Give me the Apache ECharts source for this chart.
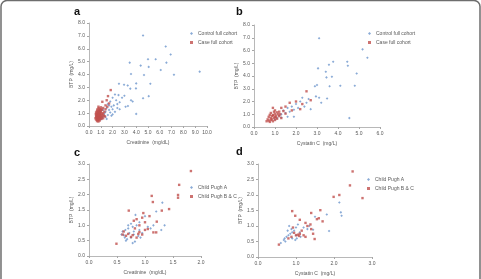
<!DOCTYPE html>
<html><head><meta charset="utf-8">
<script src="https://cdn.jsdelivr.net/npm/echarts@6/dist/echarts.min.js"></script>
<style>html,body{margin:0;padding:0;background:#fff}#c{width:481px;height:279px}</style>
</head><body><div id="c"></div>
<script>
// Panel a: Creatinine vs BTP, full cohort
var aControl = [[4.58,7.03],[6.5,6.17],[6.92,5.55],[5.65,5.19],[5.0,5.19],[6.56,4.92],[3.45,4.92],[4.38,4.69],[5.06,4.59],[6.08,4.35],[9.38,4.22],[3.56,4.04],[4.66,3.96],[7.2,3.98],[2.54,3.28],[5.2,3.28],[2.97,3.2],[3.28,3.15],[4.0,3.31],[3.5,2.9],[3.98,2.92],[5.06,2.32],[4.58,2.16],[4.0,0.94],[3.56,2.0],[3.7,1.9],
  [2.2,2.45],[2.5,2.4],[3.0,2.35],[2.8,2.2],[2.0,2.2],[2.3,2.0],[1.8,1.9],[2.6,1.85],[3.3,1.55],[3.1,1.5],[2.1,1.6],[1.6,1.7],[1.9,1.5],[2.4,1.4],[2.0,1.3],[1.7,1.25],[1.5,1.4],[2.6,1.3],[1.4,1.1],[1.8,1.05],[2.2,1.1],[1.3,0.95],[1.6,0.85],[1.9,0.8],[1.2,0.75],[1.4,0.7],[1.1,0.6],[1.5,0.55],[1.0,0.5],[2.0,0.9],[1.7,1.6],[2.4,1.7],[1.2,1.25]];
var aCase = [[1.84,2.79],[1.61,2.32],[1.13,1.88],[1.5,2.0],[1.7,1.75],[1.4,1.6],[0.8,1.5],[1.0,1.45],[1.2,1.4],[0.9,1.3],[1.1,1.25],[0.7,1.2],[0.85,1.15],[1.0,1.1],[1.3,1.1],[0.6,1.05],[0.75,1.0],[0.9,0.98],[1.05,0.95],[1.2,0.9],[0.65,0.9],[0.8,0.88],[0.95,0.85],[0.7,0.8],[0.85,0.78],[1.0,0.75],[0.6,0.72],[0.75,0.7],[0.9,0.68],[1.1,0.7],[0.65,0.62],[0.8,0.6],[0.95,0.58],[0.7,0.55],[0.85,0.5],[0.6,0.5],[0.75,0.45],[0.9,0.42],[0.68,0.38],[0.8,0.35],[1.15,1.0],[1.25,0.8],[0.72,1.3],[0.88,1.22],[1.02,1.3],[0.78,1.08],[0.93,1.05],[0.62,0.82],[0.7,0.95],[0.82,0.72],[0.97,0.64],[1.4,1.3],[1.55,1.5],[0.55,0.6],[0.9,0.9],[0.78,0.82],[1.05,0.55],[1.2,0.6],[1.35,0.75],
  [0.66,1.12],[0.74,0.66],[0.86,0.95],[0.58,0.92],[0.96,1.18],[0.7,0.48],[1.08,0.82],[0.82,1.38],[0.64,0.74],[0.9,0.55]];
// Panel b: Cystatin C vs BTP, full cohort
var bControl = [[3.1,6.96],[5.17,6.09],[5.4,5.43],[4.44,5.12],[3.77,5.12],[3.57,4.88],[4.47,4.8],[4.89,4.2],[3.05,4.6],[3.42,4.33],[3.71,3.94],[3.45,3.89],[4.11,3.23],[4.8,3.23],[3.6,3.2],[3.48,2.24],[4.54,0.7],
  [2.9,3.2],[3.0,3.3],[2.95,2.4],[3.1,2.3],[2.6,2.2],[2.3,2.3],[2.2,2.0],[2.5,1.9],[2.0,1.8],[1.8,1.6],[2.1,1.5],[1.6,1.5],[1.4,1.3],[1.7,1.2],[1.9,1.35],[1.5,1.1],[1.3,1.0],[1.2,0.9],[1.6,0.8],[1.9,0.8],[1.1,0.7],[2.7,1.4],[2.4,1.6],[3.2,1.9],[1.0,0.6],[1.3,0.75]];
var bCase = [[2.5,2.8],[2.0,2.0],[1.7,1.9],[2.2,1.4],[2.7,2.1],[1.5,1.6],[1.3,1.5],[0.9,1.5],[1.0,1.3],[1.2,1.2],[1.4,1.25],[0.8,1.1],[1.0,1.05],[1.15,1.0],[0.9,0.95],[1.05,0.9],[0.85,0.85],[0.7,0.8],[1.0,0.8],[1.2,0.85],[0.8,0.7],[0.95,0.7],[0.65,0.6],[0.85,0.6],[1.0,0.55],[0.7,0.5],[0.6,0.45],[0.75,0.4],[0.9,0.45],[1.1,0.65],[1.3,0.7],[0.75,0.95],[1.1,1.15],[0.95,1.2],[1.25,1.0],[1.5,1.05],[0.8,0.55],[1.05,0.75],[0.92,0.9],[2.3,1.8],[1.8,1.3]];
// Panel c: Creatinine vs BTP, cases by Child Pugh
var cA = [[1.31,1.74],[1.2,1.45],[1.35,1.0],[1.29,0.85],[0.83,1.34],[1.0,1.3],[0.9,1.1],[0.85,1.0],[0.78,0.95],[0.7,0.9],[0.65,0.85],[0.6,0.8],[0.72,0.75],[0.8,0.7],[0.88,0.65],[0.75,0.6],[0.68,0.55],[0.82,0.47],[0.78,0.42],[0.64,0.6],[0.7,1.0],[0.9,0.85],[0.95,0.75],[1.05,0.95],[0.58,0.7],[0.62,0.68],[0.92,0.6],[1.1,0.9],[0.75,1.05],[0.8,0.8],[1.15,1.0],[0.66,0.5]];
var cBC = [[1.82,2.77],[1.61,2.32],[1.59,1.99],[1.59,1.9],[1.12,1.96],[1.14,1.76],[1.43,1.53],[1.30,1.48],[0.71,1.48],[0.97,1.40],[0.95,1.25],[0.85,1.2],[0.8,1.15],[1.21,1.12],[1.0,1.1],[0.9,1.0],[1.15,0.77],[1.2,0.77],[0.62,0.8],[0.6,0.7],[0.7,0.72],[0.78,0.68],[0.88,0.72],[0.95,0.7],[1.05,0.88],[0.85,0.6],[0.75,0.62],[0.66,0.66],[1.0,0.85],[0.9,0.78],[0.49,0.40],[0.82,0.9],[1.08,1.3]];
// Panel d: Cystatin C vs BTP, cases by Child Pugh
var dA = [[2.14,1.76],[2.18,1.44],[2.2,1.33],[1.81,1.37],[1.87,0.84],[1.5,1.3],[1.35,1.0],[1.3,0.9],[1.05,1.05],[1.0,0.95],[0.95,0.85],[0.9,0.8],[0.85,0.75],[0.8,0.7],[0.75,0.65],[0.7,0.6],[0.68,0.55],[0.9,0.6],[1.0,0.7],[1.1,0.8],[0.78,0.85],[0.82,1.0],[0.6,0.45],[1.2,0.95],[0.98,0.55],[1.12,0.65],[0.72,0.5],[1.45,0.88],[0.88,0.9],[1.02,0.6]];
var dBC = [[2.49,2.76],[2.42,2.31],[1.99,1.94],[2.14,2.0],[2.75,1.9],[0.9,1.48],[1.64,1.51],[1.40,1.42],[0.98,1.33],[1.1,1.2],[1.55,1.22],[1.6,1.25],[1.25,1.1],[1.3,1.0],[1.7,1.15],[1.4,0.9],[1.45,0.75],[1.49,0.58],[1.2,0.7],[1.05,0.72],[1.0,0.7],[1.1,0.75],[0.95,0.78],[0.88,0.65],[0.8,0.6],[0.55,0.4],[1.15,0.85],[1.25,0.65],[0.92,0.95],[1.08,0.68],[1.38,1.05]];

var panelLetters = ['a','b','c','d'];
var xTitles = ['Creatinine  (mg/dL)','Cystatin C  (mg/L)','Creatinine  (mg/dL)','Cystatin C  (mg/L)'];
var yTitle = 'BTP  (mg/L)';
var legendA = ['Control full cohort','Case full cohort'];
var legendC = ['Child Pugh A','Child Pugh B & C'];

var BLUE = '#6b95cc', RED = '#c0504d', AX = '#a6a6a6', TX = '#595959';
var grids = [
  {left:89, right:274, top:23, bottom:153},
  {left:254, right:101, top:25, bottom:152},
  {left:89, right:280, top:164, bottom:23},
  {left:258, right:109, top:164, bottom:22}
];
var xr = [[0,10,1],[0,6,1],[0,2,0.5],[0,3,1]];
var yr = [[0,8,1],[0,8,1],[0,3,0.5],[0,3,0.5]];
function xAx(i){return {gridIndex:i,type:'value',min:xr[i][0],max:xr[i][1],interval:xr[i][2],
  name:xTitles[i],nameLocation:'middle',nameGap:14,nameTextStyle:{fontSize:5,color:TX,fontFamily:'Liberation Sans'},
  axisLine:{lineStyle:{color:AX,width:0.8}},axisTick:{show:true,length:2,lineStyle:{color:AX}},
  splitLine:{show:false},axisLabel:{fontSize:5,color:TX,margin:4,fontFamily:'Liberation Sans',formatter:function(v){return v.toFixed(1);}}};}
function yAx(i){return {gridIndex:i,type:'value',min:yr[i][0],max:yr[i][1],interval:yr[i][2],
  name:yTitle,nameLocation:'middle',nameGap:12,nameRotate:90,nameTextStyle:{fontSize:5,color:TX,fontFamily:'Liberation Sans'},
  axisLine:{show:true,lineStyle:{color:AX,width:0.8}},axisTick:{show:true,length:2,lineStyle:{color:AX}},
  splitLine:{show:false},axisLabel:{fontSize:5,color:TX,margin:4,fontFamily:'Liberation Sans',formatter:function(v){return v.toFixed(1);}}};}
function sc(name,data,i,color,sym,size){return {name:name,type:'scatter',xAxisIndex:i,yAxisIndex:i,data:data,
  symbol:sym,symbolSize:size,itemStyle:{color:color},silent:true,animation:false};}
function lg(names,left,top){return {data:names.map(function(n){return {name:n,icon:n===names[0]?'diamond':'rect'};}),
  left:left,top:top,orient:'vertical',itemWidth:3,itemHeight:3,itemGap:4,padding:0,
  textStyle:{fontSize:5,color:TX,fontFamily:'Liberation Sans'}};}

var letterPos = [[74,6],[236,6],[74,147],[236,146]];
var chart = echarts.init(document.getElementById('c'),null,{renderer:'canvas'});
chart.setOption({
  animation:false,
  backgroundColor:'#fff',
  graphic:[{type:'rect',shape:{x:1,y:0.5,width:479,height:290,r:6},style:{fill:'none',stroke:'#6e6e6e',lineWidth:1.5}}]
    .concat(panelLetters.map(function(t,i){return {type:'text',left:letterPos[i][0],top:letterPos[i][1],
      style:{text:t,font:'bold 11px Liberation Sans',fill:'#111'}};})),
  grid:grids,
  xAxis:[xAx(0),xAx(1),xAx(2),xAx(3)],
  yAxis:[yAx(0),yAx(1),yAx(2),yAx(3)],
  legend:[lg(legendA,190,31),lg(legendA,368,31),lg(legendC,190,185),lg(legendC,367,177)],
  series:[
    sc(legendA[0],aControl,0,BLUE,'diamond',2.6),
    sc(legendA[1],aCase,0,RED,'rect',2.4),
    sc(legendA[0],bControl,1,BLUE,'diamond',2.6),
    sc(legendA[1],bCase,1,RED,'rect',2.4),
    sc(legendC[0],cA,2,BLUE,'diamond',2.6),
    sc(legendC[1],cBC,2,RED,'rect',2.4),
    sc(legendC[0],dA,3,BLUE,'diamond',2.6),
    sc(legendC[1],dBC,3,RED,'rect',2.4)
  ]
});
</script></body></html>
